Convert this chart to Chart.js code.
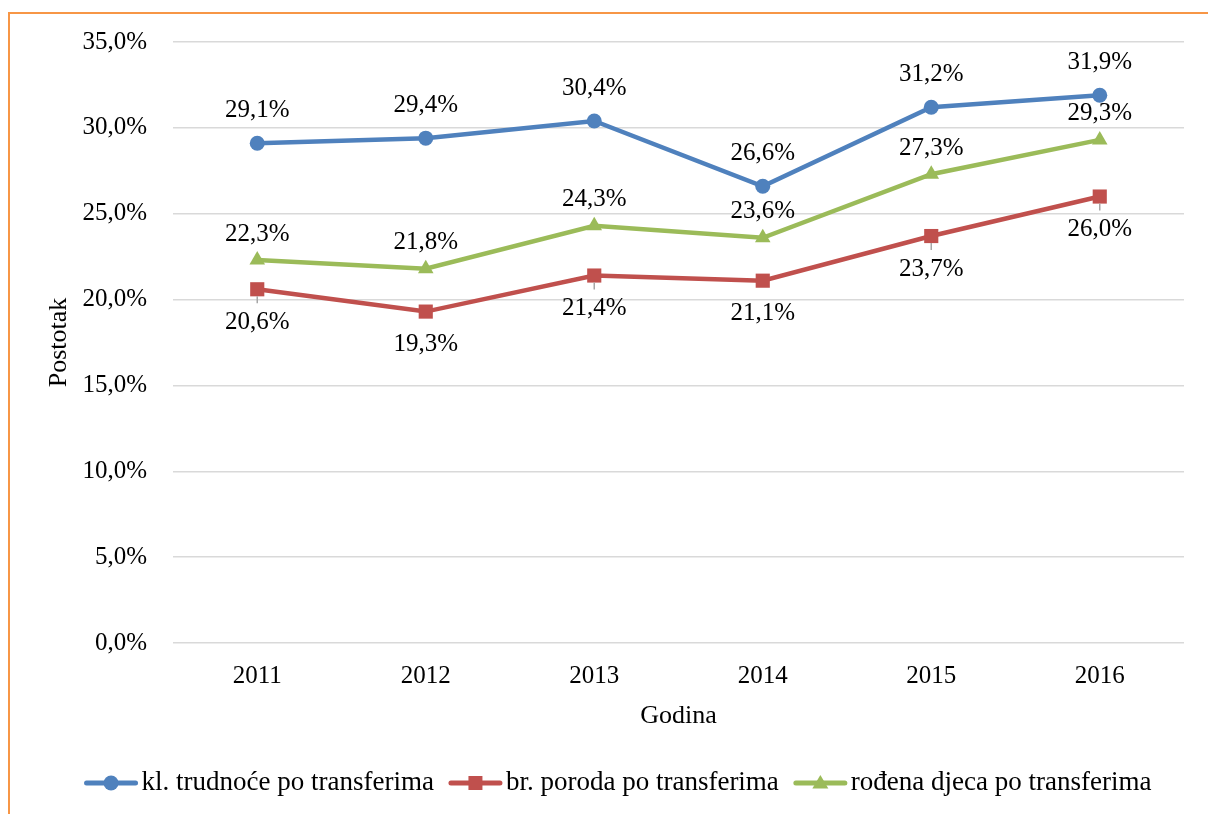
<!DOCTYPE html>
<html>
<head>
<meta charset="utf-8">
<script src="https://cdn.jsdelivr.net/npm/chart.js@4"></script>
<style>
  html, body { margin: 0; padding: 0; background: #fff; overflow: hidden; }
  #wrap { position: relative; width: 1208px; height: 814px; }
  #frame { position: absolute; left: 8px; top: 12px; width: 1300px; height: 900px;
           border-left: 2px solid #F79646; border-top: 2px solid #F79646; pointer-events: none; }
</style>
</head>
<body>
<div id="wrap">
  <canvas id="chart" width="1208" height="814"></canvas>
  <div id="frame"></div>
</div>
<script>
const years = ['2011', '2012', '2013', '2014', '2015', '2016'];
const trudnoce = [29.1, 29.4, 30.4, 26.6, 31.2, 31.9];
const porodi = [20.6, 19.3, 21.4, 21.1, 23.7, 26.0];
const djeca = [22.3, 21.8, 24.3, 23.6, 27.3, 29.3];
const yTicks = [0, 5, 10, 15, 20, 25, 30, 35];

const FONT = '"Liberation Serif", "Times New Roman", serif';
const pct = v => v.toFixed(1).replace('.', ',') + '%';

// label above/below each series, like the excel original
const labelOffsets = [-33, 33, -26];
const leaderIdx = [0, 2, 4, 5]; // red points with a small gray leader line

const valueLabels = {
  id: 'valueLabels',
  afterDatasetsDraw(chart) {
    const ctx = chart.ctx;
    ctx.save();
    ctx.font = '25px ' + FONT;
    ctx.fillStyle = '#000';
    ctx.textAlign = 'center';
    ctx.textBaseline = 'middle';
    chart.data.datasets.forEach((ds, i) => {
      chart.getDatasetMeta(i).data.forEach((pt, j) => {
        if (i === 1 && leaderIdx.includes(j)) {
          ctx.strokeStyle = '#a6a6a6';
          ctx.lineWidth = 1.5;
          ctx.beginPath();
          ctx.moveTo(pt.x, pt.y + 7);
          ctx.lineTo(pt.x, pt.y + 14);
          ctx.stroke();
        }
        ctx.fillText(pct(ds.data[j]), pt.x, pt.y + labelOffsets[i]);
      });
    });
    ctx.restore();
  }
};

function marker(ctx, style, x, y, r) {
  ctx.beginPath();
  if (style === 'circle') {
    ctx.arc(x, y, r, 0, Math.PI * 2);
  } else if (style === 'rect') {
    ctx.rect(x - r, y - r, r * 2, r * 2);
  } else {
    ctx.moveTo(x, y - r);
    ctx.lineTo(x + r, y + r * 0.7);
    ctx.lineTo(x - r, y + r * 0.7);
    ctx.closePath();
  }
  ctx.fill();
}

const legendRow = {
  id: 'legendRow',
  afterDraw(chart) {
    const ctx = chart.ctx;
    ctx.save();
    ctx.font = '27px ' + FONT;
    ctx.textBaseline = 'middle';
    ctx.textAlign = 'left';
    const sample = 53, gap = 4, sep = 15;
    const sizes = [7.5, 7, 8];
    const items = chart.data.datasets.map(ds => ({ ds: ds, w: ctx.measureText(ds.label).width }));
    const total = items.reduce((s, it) => s + sample + gap + it.w, 0) + sep * (items.length - 1);
    let x = 618 - total / 2;
    const y = 783;
    items.forEach((it, i) => {
      ctx.strokeStyle = it.ds.borderColor;
      ctx.fillStyle = it.ds.borderColor;
      ctx.lineWidth = 5;
      ctx.lineCap = 'round';
      ctx.beginPath();
      ctx.moveTo(x + 2, y);
      ctx.lineTo(x + sample - 2, y);
      ctx.stroke();
      marker(ctx, it.ds.pointStyle, x + sample / 2, y, sizes[i]);
      x += sample + gap;
      ctx.fillStyle = '#000';
      ctx.fillText(it.ds.label, x, y);
      x += it.w + sep;
    });
    ctx.restore();
  }
};

new Chart(document.getElementById('chart'), {
  type: 'line',
  data: {
    labels: years,
    datasets: [{
      label: 'kl. trudnoće po transferima',
      data: trudnoce,
      borderColor: '#4F81BD',
      backgroundColor: '#4F81BD',
      pointStyle: 'circle',
      pointRadius: 7.5
    }, {
      label: 'br. poroda po transferima',
      data: porodi,
      borderColor: '#C0504D',
      backgroundColor: '#C0504D',
      pointStyle: 'rect',
      pointRadius: 10
    }, {
      label: 'rođena djeca po transferima',
      data: djeca,
      borderColor: '#9BBB59',
      backgroundColor: '#9BBB59',
      pointStyle: 'triangle',
      pointRadius: 9
    }]
    //^ markers share the line colour
  },
  options: {
    responsive: false,
    animation: false,
    layout: { padding: { top: 42, right: 24, bottom: 79, left: 0 } },
    elements: {
      line: { borderWidth: 4.5, tension: 0 },
      point: { borderWidth: 0, hoverRadius: 8 }
    },
    plugins: {
      legend: { display: false },
      tooltip: { enabled: false }
    },
    scales: {
      x: {
        offset: true,
        grid: { display: false, drawTicks: false, offset: true },
        border: { display: false },
        ticks: { color: '#000', font: { family: FONT, size: 25 }, padding: 18 },
        title: { display: true, text: 'Godina', color: '#000',
                 font: { family: FONT, size: 26 }, padding: { top: 0, bottom: 3 } },
        afterFit(scale) { scale.height = 92; }
      },
      y: {
        min: 0,
        max: 35,
        afterBuildTicks(scale) { scale.ticks = yTicks.map(v => ({ value: v })); },
        grid: { color: '#d9d9d9', lineWidth: 1.5, drawTicks: false },
        border: { display: false },
        ticks: { color: '#000', font: { family: FONT, size: 25 }, padding: 26,
                 callback: v => pct(v) },
        title: { display: true, text: 'Postotak', color: '#000',
                 font: { family: FONT, size: 26 }, padding: { top: 44, bottom: 0 } },
        afterFit(scale) { scale.width = 173; }
      }
    }
  },
  plugins: [valueLabels, legendRow]
});
</script>
</body>
</html>
